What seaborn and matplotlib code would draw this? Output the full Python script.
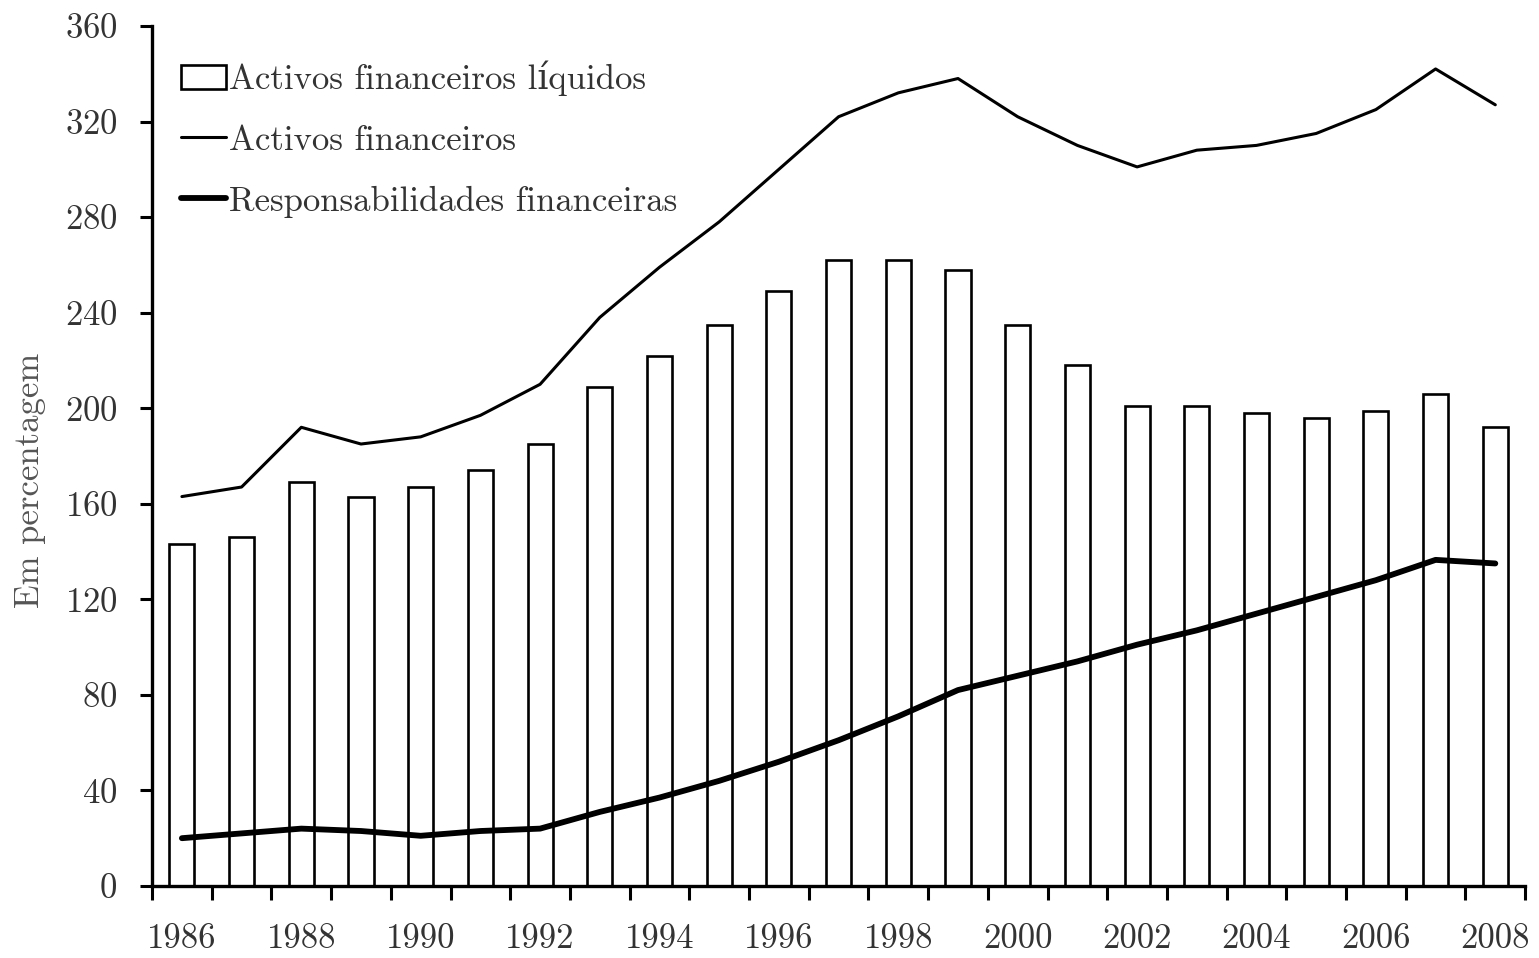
import numpy as np
import pandas as pd
import matplotlib
matplotlib.use("Agg")
import matplotlib.pyplot as plt
import seaborn as sns

years = list(range(1986, 2009))
liquidos = [143, 146, 169, 163, 167, 174, 185, 209, 222, 235, 249, 262, 262, 258,
            235, 218, 201, 201, 198, 196, 199, 206, 192]
activos = [163, 167, 192, 185, 188, 197, 210, 238, 259, 278, 300, 322, 332, 338,
           322, 310, 301, 308, 310, 315, 325, 342, 327]
responsab = [20, 22, 24, 23, 21, 23, 24, 31, 37, 44, 52, 61, 71, 82,
             88, 94, 101, 107, 114, 121, 128, 136.5, 135]
labels = ["Activos financeiros líquidos", "Activos financeiros",
          "Responsabilidades financeiras"]
ylabel = "Em percentagem"

sns.set_theme(style="ticks")
plt.rcParams["font.family"] = ["cmr10", "DejaVu Serif"]
plt.rcParams["axes.formatter.use_mathtext"] = True
plt.rcParams["mathtext.fontset"] = "cm"

df = pd.DataFrame({"year": [str(y) for y in years], "pos": np.arange(len(years)),
                   "liq": liquidos, "act": activos, "resp": responsab})

fig = plt.figure(figsize=(15.39, 9.58), dpi=100)
ax = fig.add_axes([0.0988, 0.0752, 0.8922, 0.8977])

sns.barplot(data=df, x="year", y="liq", color="white", edgecolor="black",
            linewidth=1.9, width=0.42, saturation=1, errorbar=None, ax=ax)
bar_patch = ax.patches[0]
n0 = len(ax.lines)
sns.lineplot(data=df, x="pos", y="act", color="black", linewidth=2.2, ax=ax)
thin_line = ax.lines[n0]
n1 = len(ax.lines)
sns.lineplot(data=df, x="pos", y="resp", color="black", linewidth=4.2, ax=ax)
thick_line = ax.lines[n1]

ax.set_xlim(-0.5, len(years) - 0.5)
ax.set_ylim(0, 360)
ax.set_yticks(np.arange(0, 361, 40))

ax.set_xticks(np.arange(0, len(years), 2))
ax.set_xticklabels([str(y) for y in years[::2]])
ax.set_xticks(np.arange(-0.5, len(years), 1), minor=True)
ax.tick_params(axis="x", which="major", length=0, pad=27, labelsize=25,
               labelcolor="#333333")
ax.tick_params(axis="x", which="minor", length=10, width=2.2, color="black",
               direction="out")
ax.tick_params(axis="y", which="major", length=9, width=2.2, color="black",
               direction="out", pad=16, labelsize=25, labelcolor="#333333")

for s in ["top", "right"]:
    ax.spines[s].set_visible(False)
for s in ["left", "bottom"]:
    ax.spines[s].set_linewidth(2.4)
    ax.spines[s].set_color("black")

ax.set_xlabel("")
ax.set_ylabel(ylabel, fontsize=25, color="#555555")
ax.yaxis.set_label_coords(-0.077, 0.472)

leg = ax.legend(handles=[bar_patch, thin_line, thick_line], labels=labels,
                loc="upper left", bbox_to_anchor=(-0.002, 0.996), frameon=False,
                fontsize=25, handlelength=1.3, handletextpad=0.1,
                labelspacing=0.83, borderaxespad=0.5)
for t in leg.get_texts():
    t.set_color("#333333")

fig.savefig("out.png", dpi=100, facecolor="white")
